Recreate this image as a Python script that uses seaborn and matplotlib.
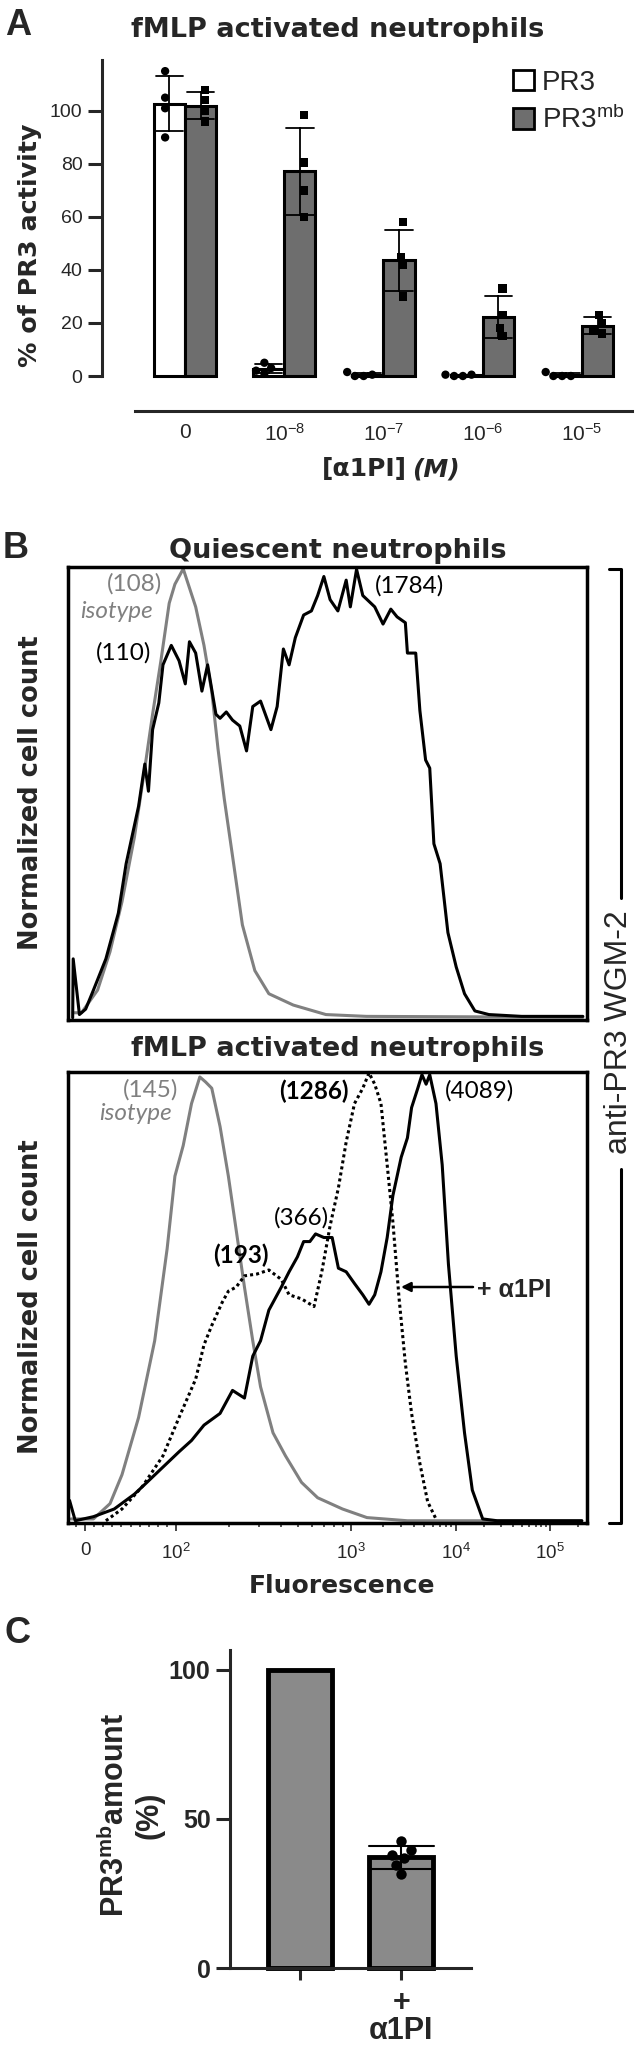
import pandas as pd
import matplotlib
matplotlib.use("Agg")
import matplotlib.pyplot as plt
import seaborn as sns
from matplotlib.patches import Patch
from matplotlib.lines import Line2D
import numpy as np

sns.set_style("white")
plt.rcParams['font.family'] = ['DejaVu Sans']
plt.rcParams['mathtext.fontset'] = 'custom'
plt.rcParams['mathtext.rm'] = 'Liberation Sans'
plt.rcParams['mathtext.it'] = 'Liberation Sans:italic'
plt.rcParams['mathtext.bf'] = 'Liberation Sans:bold'

W, H = 639, 2046

# ---------------- Panel A data: % of PR3 activity ----------------
conc_levels = ['0', '1e-8', '1e-7', '1e-6', '1e-5']
conc_ticklabels = ['0', '$10^{-8}$', '$10^{-7}$', '$10^{-6}$', '$10^{-5}$']
forms = ['PR3', 'PR3mb']
form_labels = ['PR3', 'PR3$^{\\mathrm{mb}}$']
pr3_activity = [[115, 105, 101, 90], [5, 3, 2, 1], [0, 1.5, 0.5, 0],
                [0, 0.5, 0, 0.5], [0, 1.5, 0, 0]]
pr3mb_activity = [[108, 104, 100, 96], [98.5, 80.5, 70, 60], [58, 45, 42, 30],
                  [33, 23, 18, 15], [23, 20, 17, 16]]

# ---------------- Panel B data: histograms (channel 0-100, % of max) ----------------
quies_iso_x = [1.0, 2.6, 5.7, 8.1, 10.4, 12.8, 14.8, 16.3, 17.9, 19.5, 20.6, 22.2, 23.4,
               24.6, 26.2, 27.7, 28.9, 30.1, 31.7, 33.6, 36.0, 38.7, 43.4, 49.7, 57.5, 99.2]
quies_iso_y = [1.6, 1.6, 6.6, 15.1, 26.1, 40.4, 55.6, 67.5, 79.3, 92.0, 96.2, 99.6, 95.4,
               91.2, 82.7, 72.5, 59.9, 48.9, 36.2, 21.0, 10.9, 5.8, 3.3, 1.2, 0.8, 0.6]
quies_pr3_x = [0.9, 1.0, 2.2, 3.4, 4.9, 7.3, 9.7, 11.2, 13.6, 14.8, 15.5, 16.3, 17.5, 18.3,
               19.9, 21.4, 22.6, 23.4, 24.6, 25.8, 26.9, 28.5, 29.3, 30.5, 31.7, 33.1, 34.4,
               35.6, 37.1, 39.1, 40.3, 41.5, 42.6, 43.8, 45.4, 46.9, 48.1, 49.3, 50.5, 52.0,
               53.6, 54.4, 55.6, 56.8, 58.0, 59.1, 60.7, 62.2, 63.4, 65.0, 65.4, 67.0, 67.8,
               68.9, 69.7, 70.5, 71.7, 73.2, 74.8, 76.4, 78.4, 81.1, 87.4, 99.2]
quies_pr3_y = [0.5, 13.5, 1.2, 2.4, 6.6, 13.5, 23.6, 34.5, 47.2, 56.5, 50.5, 64.1, 70.0, 78.4,
               82.7, 79.3, 74.2, 83.5, 81.0, 72.6, 78.4, 67.5, 66.6, 68.0, 66.2, 64.9, 59.4,
               69.2, 70.4, 64.1, 69.2, 81.9, 78.4, 84.4, 89.4, 90.3, 93.7, 97.9, 92.8, 90.3,
               97.1, 91.2, 99.5, 93.7, 92.4, 91.2, 87.4, 90.7, 89.0, 87.7, 81.0, 81.0, 68.3,
               57.4, 55.6, 38.9, 34.5, 19.3, 11.7, 5.8, 2.0, 1.2, 0.8, 0.8]

fmlp_iso_x = [0.6, 4.9, 8.1, 10.4, 13.6, 16.7, 19.1, 20.6, 22.2, 23.8, 25.4, 26.5, 27.7, 29.3,
              30.9, 32.4, 34.0, 35.6, 37.1, 39.5, 41.9, 45.0, 48.1, 52.9, 57.6, 65.4, 99.0]
fmlp_iso_y = [0.9, 0.9, 4.3, 10.7, 23.4, 40.4, 60.8, 76.9, 83.7, 93.0, 98.9, 97.8, 96.4, 87.9,
              76.9, 65.0, 52.3, 40.4, 30.2, 20.0, 14.9, 9.0, 5.6, 3.1, 1.2, 0.5, 0.5]
fmlp_pr3_x = [0.3, 1.4, 4.9, 8.9, 12.8, 15.2, 18.3, 21.4, 23.8, 26.2, 29.3, 31.7, 34.0, 35.6,
              37.1, 38.7, 41.1, 42.6, 44.2, 45.4, 46.6, 47.7, 49.3, 50.9, 52.1, 53.6, 55.2,
              56.8, 58.0, 59.1, 60.3, 61.5, 62.6, 64.2, 65.4, 66.2, 67.4, 68.2, 69.0, 69.7,
              70.9, 72.1, 73.3, 74.8, 76.4, 77.9, 79.9, 82.7, 99.0]
fmlp_pr3_y = [5.0, 0.5, 1.4, 3.1, 6.4, 9.0, 12.4, 15.8, 18.3, 21.7, 24.3, 29.4, 27.7, 37.0,
              40.4, 47.2, 52.3, 55.7, 59.0, 62.4, 62.4, 64.1, 63.3, 63.3, 56.5, 55.7, 53.1,
              50.6, 48.5, 50.6, 55.7, 63.3, 72.6, 81.1, 85.4, 92.1, 96.4, 99.4, 97.3, 99.4,
              93.0, 79.4, 57.4, 37.0, 20.0, 7.3, 0.9, 0.5, 0.5]
fmlp_a1pi_x = [7.3, 10.4, 14.4, 18.3, 21.4, 24.6, 26.2, 27.7, 29.7, 30.9, 32.4, 34.0, 36.4,
               38.7, 41.1, 42.6, 45.0, 47.4, 48.9, 50.5, 52.1, 53.6, 55.2, 56.8, 58.0, 59.1,
               60.3, 61.5, 62.6, 63.8, 65.0, 66.2, 67.8, 69.3, 70.9]
fmlp_a1pi_y = [0.5, 3.1, 8.2, 14.9, 23.4, 31.9, 39.5, 43.8, 48.9, 51.4, 52.3, 54.8, 55.2,
               56.1, 54.0, 50.6, 49.7, 48.0, 55.7, 65.9, 74.3, 84.5, 93.0, 96.4, 99.8, 97.3,
               93.0, 79.4, 66.7, 49.7, 35.4, 24.3, 13.2, 4.7, 0.9]

# channel position of 0 and of each decade 1e2..1e5 on the biexponential axis
fl_zero_pos = 3.3
fl_decade_pos = [20.8, 54.5, 74.8, 92.9]
fl_ticklabels = ['0', '$10^2$', '$10^3$', '$10^4$', '$10^5$']

# ---------------- Panel C data ----------------
c_groups = ['ctrl', 'a1pi']
c_ticklabels = ['', '+\nα1PI']
c_ctrl = [100]
c_a1pi = [42.7, 39.6, 37.9, 36.9, 34.6, 31.5]

fig = plt.figure(figsize=(W / 100, H / 100), dpi=100)


def px_axes(l, t, r, b):
    return fig.add_axes([l / W, 1 - b / H, (r - l) / W, (b - t) / H])


def fpos(x, y):
    return (x / W, 1 - y / H)


def ftext(x, y, s, **kw):
    fig.text(x / W, 1 - y / H, s, **kw)


# ================= Panel A =================
rows = []
for i, c in enumerate(conc_levels):
    for v in pr3_activity[i]:
        rows.append((c, 'PR3', v))
    for v in pr3mb_activity[i]:
        rows.append((c, 'PR3mb', v))
dfA = pd.DataFrame(rows, columns=['conc', 'form', 'activity'])

axA = px_axes(102, 60, 632, 376)
sns.barplot(data=dfA, x='conc', y='activity', hue='form', order=conc_levels,
            hue_order=forms, palette={'PR3': 'white', 'PR3mb': '#6e6e6e'},
            saturation=1, errorbar='sd', capsize=0.55,
            err_kws={'color': 'black', 'linewidth': 1.3}, width=0.63, gap=0,
            edgecolor='black', linewidth=2.2, legend=False, ax=axA)
for form, mk in zip(forms, ['o', 's']):
    sns.swarmplot(data=dfA[dfA['form'] == form], x='conc', y='activity', hue='form',
                  order=conc_levels, hue_order=forms, dodge=True,
                  palette={'PR3': 'black', 'PR3mb': 'black'}, marker=mk, size=6,
                  legend=False, ax=axA)
axA.set_xlim(-0.836, 4.504)
axA.set_ylim(0, 119.2)
axA.set_yticks([0, 20, 40, 60, 80, 100])
axA.set_xticks(range(len(conc_levels)))
axA.set_xticklabels(conc_ticklabels)
axA.set_xlabel('')
axA.set_ylabel('')
sns.despine(ax=axA)
axA.spines['left'].set_linewidth(2.2)
axA.spines['bottom'].set_linewidth(2.2)
axA.spines['bottom'].set_position(('outward', 25))
axA.spines['bottom'].set_bounds(-0.504, 4.504)
axA.tick_params(axis='y', left=True, length=10, width=2.2, pad=4, labelsize=14,
                labelfontfamily='Liberation Sans')
axA.tick_params(axis='x', bottom=True, length=0, pad=9, labelsize=15,
                labelfontfamily='Liberation Sans')
for art in axA.collections + axA.lines + axA.patches:
    art.set_clip_on(False)

handles = [Patch(facecolor='white', edgecolor='black', linewidth=2),
           Patch(facecolor='#6e6e6e', edgecolor='black', linewidth=2)]
axA.legend(handles, form_labels, loc='upper left', bbox_to_anchor=fpos(513, 70),
           bbox_transform=fig.transFigure, frameon=False,
           prop={'family': 'Liberation Sans', 'size': 20}, handlelength=0.75,
           handleheight=0.75, handletextpad=0.3, labelspacing=0.35, borderpad=0,
           borderaxespad=0)

ftext(5, 35, 'A', fontfamily='Liberation Sans', fontweight='bold', fontsize=26, va='baseline')
ftext(338, 37, 'fMLP activated neutrophils', fontweight='bold', fontsize=19.5,
      ha='center', va='baseline')
ftext(30, 245, '% of PR3 activity', fontweight='bold', fontsize=18.3, rotation=90,
      ha='center', va='center')
ftext(407, 476, '[α1PI]', fontweight='bold', fontsize=18, ha='right', va='baseline')
ftext(412, 476, '(M)', fontweight='bold', fontstyle='italic', fontsize=18, ha='left',
      va='baseline')

# ================= Panel B =================
gray = '#808080'
axB1 = px_axes(68, 567, 587, 1020)
sns.lineplot(x=quies_iso_x, y=quies_iso_y, color=gray, lw=2.2, sort=False,
             estimator=None, ax=axB1)
sns.lineplot(x=quies_pr3_x, y=quies_pr3_y, color='black', lw=2.2, sort=False,
             estimator=None, ax=axB1)

axB2 = px_axes(68, 1072, 587, 1523)
sns.lineplot(x=fmlp_iso_x, y=fmlp_iso_y, color=gray, lw=2.2, sort=False,
             estimator=None, ax=axB2)
sns.lineplot(x=fmlp_a1pi_x, y=fmlp_a1pi_y, color='black', lw=2.2, ls=(0, (1, 1)),
             sort=False, estimator=None, ax=axB2)
sns.lineplot(x=fmlp_pr3_x, y=fmlp_pr3_y, color='black', lw=2.2, sort=False,
             estimator=None, ax=axB2)

for ax in (axB1, axB2):
    ax.set_xlim(0, 100)
    ax.set_ylim(0, 100)
    ax.set_yticks([])
    for sp in ax.spines.values():
        sp.set_visible(True)
        sp.set_linewidth(2.5)
        sp.set_color('black')
    for ln in ax.lines:
        ln.set_clip_on(False)
axB1.set_xticks([])

major_pos = [fl_zero_pos] + fl_decade_pos
lin_step = (fl_decade_pos[0] - fl_zero_pos) / 10
minor_pos = [fl_zero_pos + k * lin_step for k in [-1] + list(range(1, 10))]
for i in range(len(fl_decade_pos) - 1):
    span = fl_decade_pos[i + 1] - fl_decade_pos[i]
    minor_pos += [fl_decade_pos[i] + np.log10(m) * span for m in range(2, 10)]
minor_pos.append(fl_decade_pos[-1] + np.log10(2) * (fl_decade_pos[-1] - fl_decade_pos[-2]))
axB2.set_xticks(major_pos)
axB2.set_xticklabels(fl_ticklabels)
axB2.set_xticks(minor_pos, minor=True)
axB2.tick_params(axis='x', which='major', bottom=True, direction='out', length=6,
                 width=1.2, pad=8, labelsize=13.5, labelfontfamily='Liberation Sans')
axB2.tick_params(axis='x', which='minor', bottom=True, direction='out', length=3,
                 width=1.1)

ftext(3, 558, 'B', fontfamily='Liberation Sans', fontweight='bold', fontsize=26, va='baseline')
ftext(338, 558, 'Quiescent neutrophils', fontweight='bold', fontsize=19.5,
      ha='center', va='baseline')
ftext(338, 1056, 'fMLP activated neutrophils', fontweight='bold', fontsize=19.5,
      ha='center', va='baseline')
for yc in (793, 1297):
    ftext(31, yc, 'Normalized cell count', fontweight='bold', fontsize=18.5,
          rotation=90, ha='center', va='center')
ftext(342, 1593, 'Fluorescence', fontweight='bold', fontsize=18, ha='center', va='baseline')

ann = dict(fontfamily='Lato', fontsize=17.5, ha='center', va='center')
ftext(134, 584, '(108)', color=gray, **ann)
ftext(117, 612, 'isotype', color=gray, fontstyle='italic', **ann)
ftext(124, 653, '(110)', color='black', **ann)
ftext(409, 586, '(1784)', color='black', **ann)
ftext(151, 1090, '(145)', color=gray, **ann)
ftext(136, 1113, 'isotype', color=gray, fontstyle='italic', **ann)
ftext(314, 1091, '(1286)', color='black', fontweight='bold', **ann)
ftext(479, 1091, '(4089)', color='black', **ann)
ftext(301, 1218, '(366)', color='black', **ann)
ftext(241, 1255, '(193)', color='black', fontweight='bold', **ann)
ftext(477, 1290, '+ α1PI', fontfamily='Liberation Sans', fontweight='bold', fontsize=18,
      ha='left', va='center')
axB2.annotate('', xy=((401 - 68) / 5.19, (1523 - 1287) / 4.51),
              xytext=((473 - 68) / 5.19, (1523 - 1287) / 4.51),
              arrowprops=dict(arrowstyle='-|>', color='black', lw=1.8,
                              mutation_scale=14, shrinkA=0, shrinkB=0))

# bracket for anti-PR3 WGM-2
for seg in ([(609, 569), (621, 569), (621, 898)], [(621, 1169), (621, 1523), (609, 1523)]):
    xs = [p[0] / W for p in seg]
    ys = [1 - p[1] / H for p in seg]
    fig.add_artist(Line2D(xs, ys, color='black', lw=2.2, transform=fig.transFigure))
ftext(619, 1032, 'anti-PR3 WGM-2', fontfamily='Liberation Sans', fontsize=23,
      rotation=90, ha='center', va='center')

# ================= Panel C =================
dfC = pd.DataFrame({'group': ['ctrl'] * len(c_ctrl) + ['a1pi'] * len(c_a1pi),
                    'amount': c_ctrl + c_a1pi})
axC = px_axes(230, 1650, 471, 1968)
sns.barplot(data=dfC, x='group', y='amount', order=c_groups, color='#8a8a8a',
            saturation=1, errorbar='sd', capsize=0.64,
            err_kws={'color': 'black', 'linewidth': 1.5}, width=0.63,
            edgecolor='black', linewidth=3.5, ax=axC)
sns.swarmplot(data=dfC[dfC['group'] == 'a1pi'], x='group', y='amount', order=c_groups,
              color='black', size=7.5, ax=axC)
axC.set_xlim(-0.69, 1.69)
axC.set_ylim(0, 106.7)
axC.set_yticks([0, 50, 100])
axC.set_xticks(range(len(c_groups)))
axC.set_xticklabels(c_ticklabels)
axC.set_xlabel('')
axC.set_ylabel('')
sns.despine(ax=axC)
axC.spines['left'].set_linewidth(2.2)
axC.spines['bottom'].set_linewidth(2.2)
axC.tick_params(axis='y', left=True, length=10, width=2.2, pad=4, labelsize=18,
                labelfontfamily='Liberation Sans')
axC.tick_params(axis='x', bottom=True, length=8.6, width=2.2, pad=6, labelsize=22,
                labelfontfamily='Liberation Sans')
for lbl in axC.get_yticklabels() + axC.get_xticklabels():
    lbl.set_fontweight('bold')
for lbl in axC.get_xticklabels():
    lbl.set_linespacing(0.9)
for art in axC.collections + axC.lines + axC.patches:
    art.set_clip_on(False)

ftext(4, 1643, 'C', fontfamily='Liberation Sans', fontweight='bold', fontsize=26, va='baseline')
ftext(132, 1815, 'PR3$^{\\mathbf{mb}}$amount\n(%)', fontfamily='Liberation Sans',
      fontweight='bold', fontsize=22, rotation=90, ha='center', va='center',
      multialignment='center', linespacing=1.15)

fig.savefig('out.png', dpi=100)
